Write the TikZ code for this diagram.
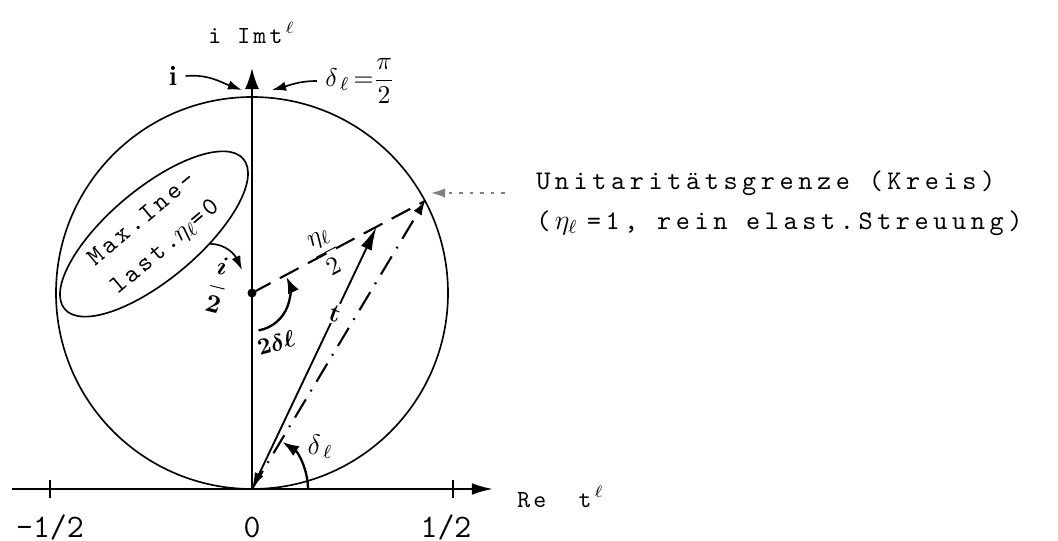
\documentclass[tikz,border=0pt]{standalone}
\usepackage{fontspec}
\newfontfamily\breitschrift{lmmono10-regular}[Extension=.otf,LetterSpace=17]
\newfontfamily\mittelschrift{lmmono10-regular}[Extension=.otf,LetterSpace=13]
\usetikzlibrary{arrows.meta,shapes.geometric}
\begin{document}
\begin{tikzpicture}[x=1.5cm, y=1.5cm,
	achse/.style={line width=0.9pt},
	schreib/.style={font=\fontsize{11.5}{17}\selectfont\breitschrift},
	achsname/.style={font=\fontsize{10.5}{12}\selectfont\mittelschrift},
	zahl/.style={font=\fontsize{14}{16}\selectfont\ttfamily},
	hand/.style={font=\fontsize{11}{13}\selectfont\bfseries\boldmath},
	spitze/.style={-{Latex[length=6pt,width=4pt]}}]
	\useasboundingbox (-2.52,-0.52) rectangle (8.06,4.89);
	%Punkte
	\coordinate (O) at (0,0);
	\coordinate (C) at (0,1.96);
	\coordinate (P) at (1.73,2.88);
	\coordinate (T) at (1.245,2.62);
	\coordinate (links) at (-2.40,0);
	\coordinate (rechts) at (2.41,0);
	\coordinate (oben) at (0,4.21);
	%Achsen
	\draw[achse,-{Latex[length=9pt,width=5pt]}] (links) -- (rechts);
	\draw[achse,-{Latex[length=9pt,width=6pt]}] (O) -- (oben);
	\draw[achse] (-2.02,-0.09) -- (-2.02,0.09);
	\draw[achse] (2.01,-0.09) -- (2.01,0.09);
	\node[zahl] (mhalb) at (-2.02,-0.38) {-1/2};
	\node[zahl] (null) at (0,-0.38) {0};
	\node[zahl] (phalb) at (1.94,-0.38) {1/2};
	\node[achsname,anchor=west] (re) at (2.57,-0.08) {Re\ \ t$^{\,\ell}$};
	\node[achsname,anchor=west] (im) at (-0.52,4.56) {i Imt$^{\,\ell}$};
	%Kreis
	\draw[line width=0.7pt] (C) circle (1.96);
	\fill (C) circle (0.045);
	%Obere Pfeile
	\coordinate (ispitze) at (-0.10,3.99);
	\coordinate (dspitze) at (0.20,3.99);
	\node[font=\fontsize{12}{14}\selectfont\bfseries] (ilabel) at (-0.79,4.13) {i};
	\node[font=\fontsize{11}{13}\selectfont] (pihalb) at (1.08,4.08) {$\delta_{\,\ell}\,{=}\displaystyle\frac{\pi}{2}$};
	\draw[line width=0.7pt,spitze] (ilabel.east) to[out=5,in=160] (ispitze);
	\draw[line width=0.7pt,spitze] (pihalb.west) to[out=180,in=15] (dspitze);
	%Ballon
	\node[draw,ellipse,rotate=40,line width=0.7pt,minimum width=3.5cm,minimum height=1.36cm,align=center,inner sep=0pt,
		font=\fontsize{11}{15.5}\selectfont\mittelschrift] (ballon) at (-0.98,2.55) {Max.Ine-\\last.$\eta_{\ell}$=0};
	\coordinate (halbspitze) at (-0.10,2.19);
	\draw[line width=0.7pt,spitze] (ballon.-50) to[out=0,in=115] (halbspitze);
	\node[hand,rotate=-14] (ihalb) at (-0.34,2.04) {$\displaystyle\frac{i}{2}$};
	%Radius und Vektoren
	\draw[line width=0.9pt,dash pattern=on 9pt off 4.5pt] (C) -- (P);
	\draw[line width=0.9pt,dash pattern=on 9pt off 4pt on 0.8pt off 4pt,spitze] (O) -- (P);
	\draw[line width=0.8pt,{Latex[length=7pt,width=4pt]}-{Latex[length=10pt,width=5pt]}] (O) -- (T)
		node[hand,pos=0.67,fill=white,inner sep=1pt,rotate=-20] (tlabel) {t};
	\node[font=\fontsize{11}{13}\selectfont,rotate=28] (etahalb) at (0.745,2.36) {$\displaystyle\frac{\eta_{\ell}}{2}$};
	%Winkel
	\draw[line width=1pt,-{Latex[length=7pt,width=5pt]}] ([shift={(-80:0.38)}]C) arc[start angle=-80,end angle=25,radius=0.38];
	\node[font=\fontsize{10}{12}\selectfont\bfseries\boldmath,rotate=15] (zweidelta) at (0.24,1.46) {$2\delta\ell$};
	\draw[line width=1pt,-{Latex[length=7pt,width=5pt]}] (0.56,0) arc[start angle=0,end angle=57,radius=0.56];
	\node[font=\fontsize{12}{14}\selectfont] (deltal) at (0.68,0.42) {$\delta_{\,\ell}$};
	%Unitaritaetsgrenze
	\node[schreib,anchor=west,align=left] (grenze) at (2.76,2.86) {Unitaritätsgrenze (Kreis)\\(\,$\eta_{\ell}$\,\,=1, rein elast.Streuung)};
	\coordinate (pfeilstart) at (2.53,2.96);
	\coordinate (kreisrand) at (1.79,2.96);
	\draw[gray,line width=0.7pt,dash pattern=on 1.5pt off 3pt,spitze] (pfeilstart) -- (kreisrand);
\end{tikzpicture}
\end{document}
